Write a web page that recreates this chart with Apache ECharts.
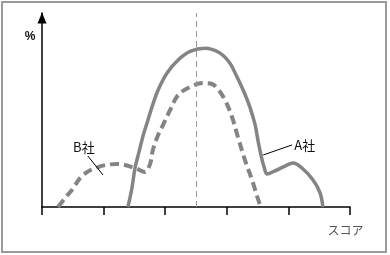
<!DOCTYPE html>
<html>
<head>
<meta charset="utf-8">
<script src="https://cdn.jsdelivr.net/npm/echarts@6/dist/echarts.min.js"></script>
<style>
html,body{margin:0;padding:0;background:#fff;}
#c{width:390px;height:255px;}
</style>
</head>
<body>
<div id="c"></div>
<script>
// Series data: [score, percent]
const seriesA = [
  [27.9, 0], [29.2, 9.8], [30.2, 20.1], [31.5, 28.4], [32.8, 36.6], [34.1, 43.3],
  [35.7, 51.5], [37.7, 60.3], [40.6, 69.1], [44.2, 75.8], [48.1, 80.2], [52.9, 81.8],
  [57.5, 79.6], [60.8, 74.6], [62.7, 69.1], [65.3, 60.3], [67.5, 51.5], [69.2, 42.3],
  [70.1, 34.5], [71.1, 26.8], [72.1, 20.6], [73.1, 17.0], [75.6, 18.6], [78.9, 21.1],
  [81.5, 22.7], [84.4, 20.1], [88.0, 13.9], [90.3, 7.2], [91.2, 0]
];
const seriesB = [
  [5.2, 0], [7.5, 4.6], [9.7, 8.8], [13.3, 16.5], [18.2, 20.6], [24.4, 22.2],
  [30.2, 20.1], [33.4, 18.0], [35.1, 22.2], [36.0, 29.4], [37.7, 37.1], [39.3, 42.3],
  [41.6, 50.0], [44.2, 57.7], [48.1, 61.9], [52.3, 63.9], [55.2, 63.4], [57.1, 60.8],
  [59.4, 55.2], [61.7, 46.4], [63.6, 36.1], [65.9, 24.2], [68.2, 13.9], [70.8, 1.0], [71.4, 0]
];
const seriesNames = ['A社', 'B社'];
const xTicks = [0, 20, 40, 60, 80, 100];
const meanScore = 50;
const labelA = { text: 'A社', pos: [85.3, 32.0], line: [[71.8, 26.8], [81.2, 32.0]] };
const labelB = { text: 'B社', pos: [13.6, 30.9], line: [[14.9, 26.3], [19.8, 16.5]] };

const gray = '#848484';
const chart = echarts.init(document.getElementById('c'), null, { renderer: 'canvas' });
chart.setOption({
  animation: false,
  backgroundColor: '#fff',
  grid: { left: 42, right: 40, top: 13, bottom: 48, containLabel: false },
  xAxis: {
    type: 'value', min: xTicks[0], max: xTicks[xTicks.length - 1], interval: 20,
    name: 'スコア', nameLocation: 'end', nameGap: 0,
    nameTextStyle: { color: '#555', fontSize: 12, fontFamily: 'Noto Sans CJK JP', align: 'center', verticalAlign: 'top', padding: [17, 9, 0, 0] },
    axisLine: { show: true, lineStyle: { color: '#000', width: 1.5 } },
    axisTick: { show: true, length: 8, lineStyle: { color: '#000', width: 1.5 } },
    axisLabel: { show: false },
    splitLine: { show: false }
  },
  yAxis: {
    type: 'value', min: 0, max: 100,
    name: '%', nameLocation: 'end', nameGap: 0,
    nameTextStyle: { color: '#111', fontSize: 12, fontWeight: 'bold', fontFamily: 'Liberation Sans', align: 'center', verticalAlign: 'top', padding: [18, 24, 0, 0] },
    axisLine: { show: true, symbol: ['none', 'triangle'], symbolSize: [9, 11], symbolOffset: [0, -5], lineStyle: { color: '#000', width: 1.5 } },
    axisTick: { show: false },
    axisLabel: { show: false },
    splitLine: { show: false }
  },
  graphic: [{
    type: 'rect', shape: { x: 2, y: 2, width: 384, height: 250 },
    style: { fill: 'none', stroke: '#9a9a9a', lineWidth: 2 }, silent: true
  }],
  series: [
    {
      name: seriesNames[0], type: 'line', data: seriesA, smooth: 0.35, showSymbol: false, clip: false,
      lineStyle: { color: gray, width: 3.5 },
      markLine: {
        silent: true, symbol: ['none', 'none'], label: { show: false },
        data: [
          [{ xAxis: meanScore, yAxis: 0, lineStyle: { color: '#999', width: 1, type: [6, 4] } },
           { xAxis: meanScore, yAxis: 100 }],
          [{ coord: labelA.line[0], lineStyle: { color: '#000', width: 1, type: 'solid' } },
           { coord: labelA.line[1] }]
        ]
      },
      markPoint: {
        silent: true, symbol: 'circle', symbolSize: 0,
        label: { show: true, position: 'inside', color: '#111', fontSize: 13, fontFamily: 'Noto Sans CJK JP', formatter: labelA.text },
        data: [{ coord: labelA.pos }]
      }
    },
    {
      name: seriesNames[1], type: 'line', data: seriesB, smooth: 0.35, showSymbol: false, clip: false,
      lineStyle: { color: gray, width: 4, type: [9, 5] },
      markLine: {
        silent: true, symbol: ['none', 'none'], label: { show: false },
        data: [
          [{ coord: labelB.line[0], lineStyle: { color: '#000', width: 1, type: 'solid' } },
           { coord: labelB.line[1] }]
        ]
      },
      markPoint: {
        silent: true, symbol: 'circle', symbolSize: 0,
        label: { show: true, position: 'inside', color: '#111', fontSize: 13, fontFamily: 'Noto Sans CJK JP', formatter: labelB.text },
        data: [{ coord: labelB.pos }]
      }
    }
  ]
});
</script>
</body>
</html>
